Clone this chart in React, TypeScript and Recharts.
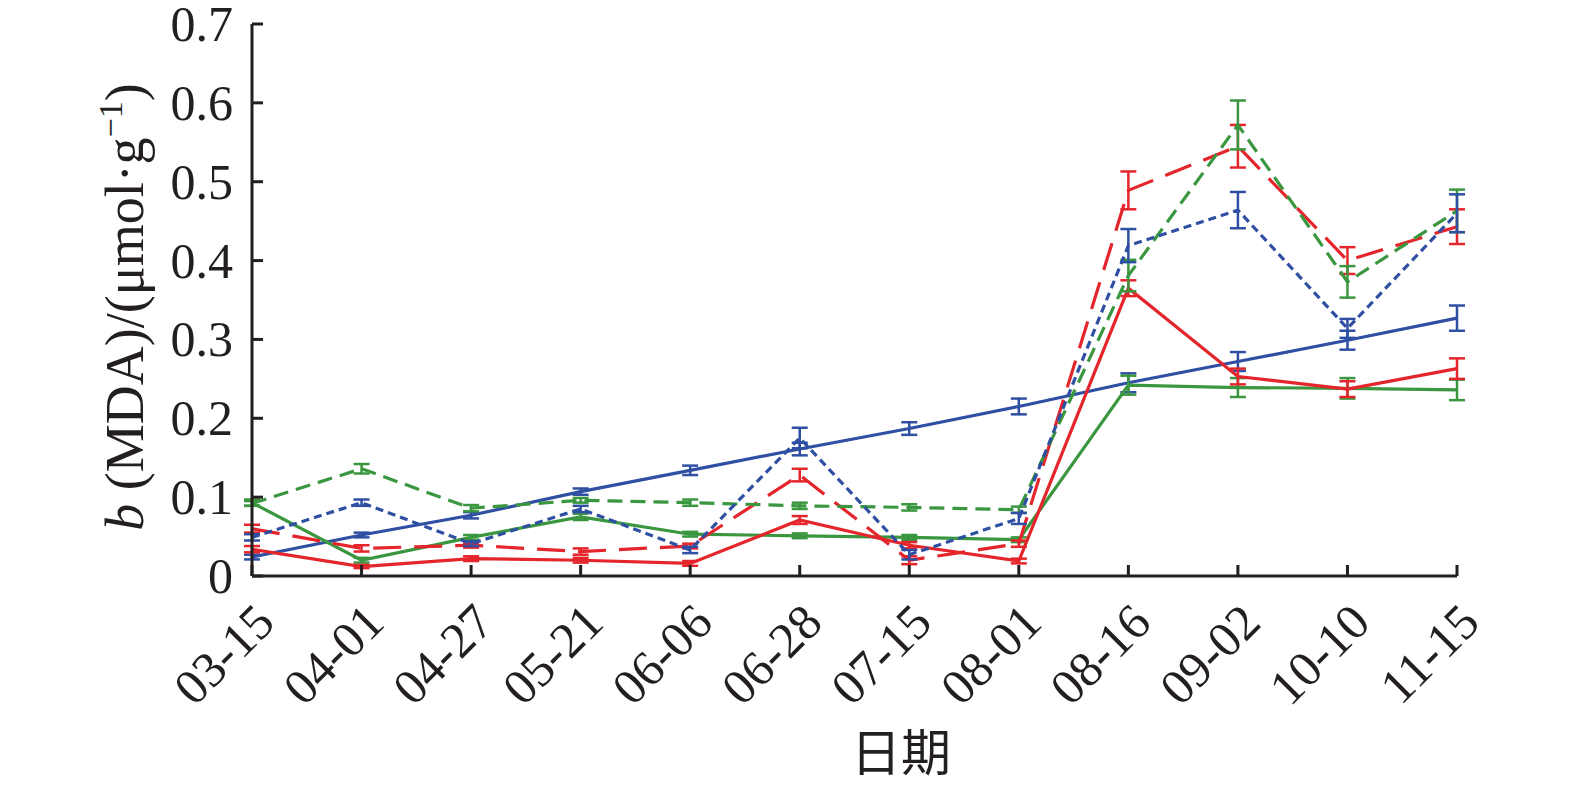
import React from 'react';
import { LineChart, Line, XAxis, YAxis, ErrorBar } from 'recharts';

const dates = ['03-15', '04-01', '04-27', '05-21', '06-06', '06-28', '07-15', '08-01', '08-16', '09-02', '10-10', '11-15'];
const yTicks = [0, 0.1, 0.2, 0.3, 0.4, 0.5, 0.6, 0.7];

const blueSolid = [0.024, 0.052, 0.077, 0.107, 0.134, 0.161, 0.187, 0.215, 0.245, 0.272, 0.299, 0.327];
const blueSolidErr = [0.003, 0.003, 0.004, 0.004, 0.006, 0.008, 0.008, 0.010, 0.012, 0.012, 0.012, 0.016];
const redSolid = [0.034, 0.012, 0.022, 0.020, 0.016, 0.071, 0.039, 0.019, 0.365, 0.253, 0.237, 0.263];
const redSolidErr = [0.004, 0.002, 0.003, 0.003, 0.003, 0.005, 0.004, 0.003, 0.010, 0.010, 0.010, 0.013];
const greenSolid = [0.093, 0.020, 0.049, 0.075, 0.053, 0.051, 0.049, 0.046, 0.242, 0.239, 0.238, 0.236];
const greenSolidErr = [0.004, 0.003, 0.003, 0.004, 0.003, 0.003, 0.003, 0.003, 0.012, 0.012, 0.013, 0.013];
const redDashed = [0.060, 0.035, 0.039, 0.031, 0.038, 0.128, 0.020, 0.041, 0.489, 0.545, 0.400, 0.443];
const redDashedErr = [0.005, 0.004, 0.003, 0.004, 0.003, 0.008, 0.005, 0.004, 0.024, 0.027, 0.017, 0.022];
const greenDashed = [0.092, 0.136, 0.086, 0.096, 0.093, 0.089, 0.087, 0.084, 0.381, 0.572, 0.373, 0.463];
const greenDashedErr = [0.003, 0.006, 0.004, 0.003, 0.004, 0.004, 0.004, 0.004, 0.020, 0.031, 0.020, 0.027];
const blueDotted = [0.049, 0.093, 0.041, 0.085, 0.033, 0.175, 0.027, 0.073, 0.419, 0.464, 0.314, 0.460];
const blueDottedErr = [0.004, 0.004, 0.003, 0.004, 0.004, 0.013, 0.006, 0.007, 0.021, 0.023, 0.012, 0.024];

const data = dates.map((d, i) => ({
  date: d,
  bs: blueSolid[i], bsErr: blueSolidErr[i],
  rs: redSolid[i], rsErr: redSolidErr[i],
  gs: greenSolid[i], gsErr: greenSolidErr[i],
  rd: redDashed[i], rdErr: redDashedErr[i],
  gd: greenDashed[i], gdErr: greenDashedErr[i],
  bd: blueDotted[i], bdErr: blueDottedErr[i],
}));

const RED = '#e4252b';
const BLUE = '#2f4fa3';
const GREEN = '#3a963f';
const INK = '#231f20';
const FONT = '"Liberation Serif", "Times New Roman", serif';

const W = 1575;
const H = 787;
const AXIS_X = 252;
const AXIS_Y = 576;
const PLOT_RIGHT = 1457;
const PLOT_TOP = 24;

const XTick = (props: any) => {
  const x = props.payload.coordinate;
  const px = x + 25;
  const py = AXIS_Y + 49;
  return (
    <g>
      <line x1={x} x2={x} y1={AXIS_Y} y2={AXIS_Y - 11} stroke={INK} strokeWidth={3} />
      <text x={px} y={py} textAnchor="end" transform={`rotate(-45, ${px}, ${py})`} fontSize={50} fontFamily={FONT} fill={INK}>
        {props.payload.value}
      </text>
    </g>
  );
};

const YTick = (props: any) => {
  const y = props.payload.coordinate;
  const v = props.payload.value;
  return (
    <g>
      <line x1={AXIS_X} x2={AXIS_X + 11} y1={y} y2={y} stroke={INK} strokeWidth={3} />
      <text x={233} y={y + 17} textAnchor="end" fontSize={50} fontFamily={FONT} fill={INK}>
        {v === 0 ? '0' : v.toFixed(1)}
      </text>
    </g>
  );
};

const YLabel = () => (
  <text
    x={143}
    y={307}
    textAnchor="middle"
    transform="rotate(-90, 143, 307)"
    fontSize={54}
    fontFamily={FONT}
    fill={INK}
  >
    <tspan fontStyle="italic">b</tspan>
    <tspan> (MDA)/(μmol·g</tspan>
    <tspan fontSize={34} dy={-21}>−1</tspan>
    <tspan dy={21}>)</tspan>
  </text>
);

const XLabel = () => (
  <text x={901} y={771} textAnchor="middle" fontSize={50} fontFamily='"Noto Sans CJK SC", sans-serif' fill={INK}>
    日期
  </text>
);

const eb = (key: string, color: string) => (
  <ErrorBar dataKey={key} width={8} strokeWidth={2.5} stroke={color} direction="y" />
);

export default function App() {
  return (
    <div style={{ position: 'absolute', left: 0, top: 0, width: W, height: H, background: '#fff' }}>
      <LineChart
        width={W}
        height={H}
        data={data}
        margin={{ top: PLOT_TOP, right: W - PLOT_RIGHT, left: AXIS_X - 100, bottom: H - AXIS_Y - 100 }}
      >
        <XAxis
          dataKey="date"
          scale="point"
          padding={{ left: 0, right: 0 }}
          interval={0}
          height={100}
          tickLine={false}
          axisLine={{ stroke: INK, strokeWidth: 3 }}
          tick={<XTick />}
          label={<XLabel />}
        />
        <YAxis
          width={100}
          domain={[0, 0.7]}
          ticks={yTicks}
          allowDataOverflow
          tickLine={false}
          axisLine={{ stroke: INK, strokeWidth: 3 }}
          tick={<YTick />}
          label={<YLabel />}
        />
        <Line dataKey="bs" stroke={BLUE} strokeWidth={3.2} dot={false} isAnimationActive={false}>
          {eb('bsErr', BLUE)}
        </Line>
        <Line dataKey="gs" stroke={GREEN} strokeWidth={3.2} dot={false} isAnimationActive={false}>
          {eb('gsErr', GREEN)}
        </Line>
        <Line dataKey="rs" stroke={RED} strokeWidth={3.2} dot={false} isAnimationActive={false}>
          {eb('rsErr', RED)}
        </Line>
        <Line dataKey="rd" stroke={RED} strokeWidth={3.2} strokeDasharray="28 13" dot={false} isAnimationActive={false}>
          {eb('rdErr', RED)}
        </Line>
        <Line dataKey="gd" stroke={GREEN} strokeWidth={3.2} strokeDasharray="15 8" dot={false} isAnimationActive={false}>
          {eb('gdErr', GREEN)}
        </Line>
        <Line dataKey="bd" stroke={BLUE} strokeWidth={3.2} strokeDasharray="8 5" dot={false} isAnimationActive={false}>
          {eb('bdErr', BLUE)}
        </Line>
      </LineChart>
    </div>
  );
}
